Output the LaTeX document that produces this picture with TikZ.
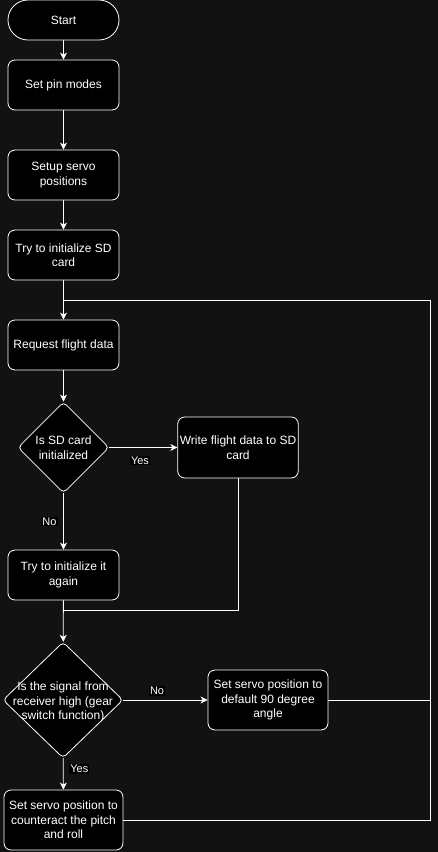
\documentclass[tikz,border=0pt]{standalone}
\usepackage{fontspec}
\setmainfont{Liberation Sans}
\usetikzlibrary{shapes.geometric,arrows.meta}
\definecolor{bg}{HTML}{121212}
\begin{document}
\begin{tikzpicture}[x=1pt,y=-1pt,
  every node/.style={font=\fontsize{12}{14.5}\selectfont, text=white},
  box/.style={draw=white, fill=black, rounded corners=7pt, minimum width=111pt, minimum height=50pt, align=center, inner sep=2pt, line width=0.8pt},
  dia/.style={draw=white, fill=black, diamond, rounded corners=4pt, inner sep=0pt, line width=0.8pt},
  lbl/.style={fill=black, inner sep=1pt, font=\fontsize{11}{13}\selectfont},
  conn/.style={draw=white, line width=0.8pt},
  arr/.style={conn, -{Stealth[length=7pt,width=7pt,inset=2pt]}}]
\useasboundingbox (0,0) rectangle (438,852);
\fill[bg] (0,0) rectangle (438,852);

\node[box, rounded corners=20pt, minimum height=40pt] (start) at (63.5,20) {Start};
\node[box] (pin) at (63.5,85) {Set pin modes};
\node[box] (servo) at (63.5,175) {Setup servo\\positions};
\node[box] (sd) at (63.5,255) {Try to initialize SD\\card};
\node[box] (req) at (63.5,345) {Request flight data};
\node[dia, minimum width=91pt, minimum height=91pt, label={[align=center]center:Is SD card\\initialized}] (d1) at (63.5,447.5) {};
\node[box, minimum width=120pt, minimum height=61pt] (write) at (238,447.5) {Write flight data to SD\\card};
\node[box] (again) at (63.5,575) {Try to initialize it\\again};
\node[dia, minimum width=120pt, minimum height=116pt, label={[align=center,yshift=-2pt]center:Is the signal from\\receiver high (gear\\switch function)}] (d2) at (63,700) {};
\node[box, minimum width=120pt, minimum height=60pt] (def) at (268,700) {Set servo position to\\default 90 degree\\angle};
\node[box, minimum width=119pt, minimum height=60pt] (cnt) at (63.5,820) {Set servo position to\\counteract the pitch\\and roll};

\coordinate (j1) at (63.5,300);
\coordinate (r1) at (430,300);
\coordinate (r2) at (430,700);
\coordinate (r3) at (430,820);
\coordinate (j2) at (63.5,610);
\coordinate (w2) at (238,610);

\draw[arr] (start) -- (pin);
\draw[arr] (pin) -- (servo);
\draw[arr] (servo) -- (sd);
\draw[arr] (sd) -- (req);
\draw[arr] (req) -- (d1);
\draw[arr] (d1) -- node[lbl, pos=0.45, yshift=-13pt]{Yes} (write);
\draw[arr] (d1) -- node[lbl, pos=0.5, xshift=-14pt]{No} (again);
\draw[arr] (again) -- (d2);
\draw[conn] (write.south) -- (w2) -- (j2);
\draw[arr] (d2) -- node[lbl, pos=0.4, yshift=9pt]{No} (def);
\draw[arr] (d2) -- node[lbl, pos=0.35, xshift=16pt]{Yes} (cnt);
\draw[conn] (def.east) -- (r2) -- (r1) -- (j1);
\draw[conn] (cnt.east) -- (r3) -- (r2);
\end{tikzpicture}
\end{document}
